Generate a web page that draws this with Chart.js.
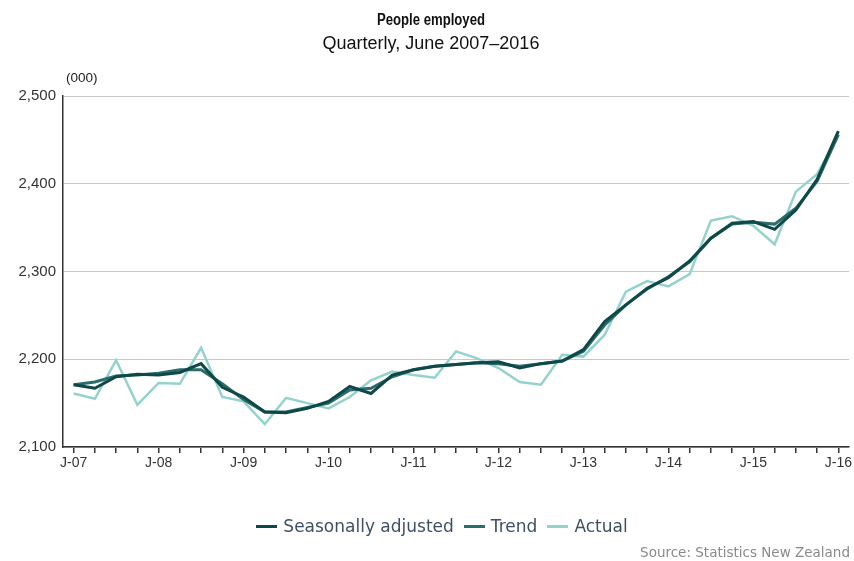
<!DOCTYPE html>
<html>
<head>
<meta charset="utf-8">
<script src="https://cdn.jsdelivr.net/npm/chart.js@4"></script>
<style>
  html, body { margin: 0; padding: 0; background: #fff; }
  #wrap { position: relative; width: 854px; height: 561px; overflow: hidden; }
  #chart { position: absolute; left: 0; top: 0; }
  .title { position: absolute; left: 0; width: 862px; text-align: center; font-family: "Liberation Sans", Arial, sans-serif; color: #111; }
  #t1 { top: 11px; font-size: 16px; font-weight: bold; transform: scaleX(0.82); }
  #t2 { top: 33px; font-size: 18px; }
  #unit { position: absolute; left: 66px; top: 70px; font: 13.5px "Liberation Sans", Arial, sans-serif; color: #222; }
  #legend { position: absolute; top: 516px; left: 0; width: 884px; display: flex; justify-content: center; font: 17px "DejaVu Sans", sans-serif; color: #3f5064; }
  #legend span.item { display: flex; align-items: center; margin: 0 5px; }
  #legend i { display: inline-block; width: 21px; height: 3px; margin-right: 6px; }
  #source { position: absolute; right: 4px; top: 544px; font: 13.5px "DejaVu Sans", sans-serif; color: #8a8a8a; }
</style>
</head>
<body>
<div id="wrap">
  <canvas id="chart" width="854" height="561"></canvas>
  <div class="title" id="t1">People employed</div>
  <div class="title" id="t2">Quarterly, June 2007–2016</div>
  <div id="unit">(000)</div>
  <div id="legend"></div>
  <div id="source">Source: Statistics New Zealand</div>
</div>
<script>
// quarters, June 2007 to June 2016
const quarters = [
  'J-07', 'S-07', 'D-07', 'M-08',
  'J-08', 'S-08', 'D-08', 'M-09',
  'J-09', 'S-09', 'D-09', 'M-10',
  'J-10', 'S-10', 'D-10', 'M-11',
  'J-11', 'S-11', 'D-11', 'M-12',
  'J-12', 'S-12', 'D-12', 'M-13',
  'J-13', 'S-13', 'D-13', 'M-14',
  'J-14', 'S-14', 'D-14', 'M-15',
  'J-15', 'S-15', 'D-15', 'M-16',
  'J-16'
];

// only the June quarters get a label
const tickLabels = ['J-07', 'J-08', 'J-09', 'J-10', 'J-11', 'J-12', 'J-13', 'J-14', 'J-15', 'J-16'];

const seasonallyAdjusted = [
  2171, 2167, 2180, 2183, 2182, 2185, 2195, 2168,
  2157, 2140, 2139, 2144, 2152, 2169, 2161, 2182,
  2188, 2192, 2194, 2196, 2197, 2190, 2195, 2198,
  2211, 2243, 2262, 2281, 2293, 2312, 2338, 2355,
  2357, 2348, 2370, 2405, 2460
];

const trend = [
  2171, 2174, 2181, 2182, 2184, 2188, 2188, 2172,
  2154, 2140, 2140, 2145, 2150, 2165, 2167, 2180,
  2188, 2192, 2194, 2196, 2195, 2192, 2195, 2198,
  2209, 2239, 2262, 2280, 2294, 2311, 2338, 2354,
  2356, 2354, 2372, 2403, 2456
];

const actual = [
  2161, 2155, 2199, 2148, 2173, 2172, 2213, 2157,
  2152, 2126, 2156, 2150, 2144, 2157, 2176, 2186,
  2182, 2179, 2209, 2201, 2190, 2174, 2171, 2205,
  2203, 2228, 2277, 2289, 2283, 2297, 2358, 2363,
  2352, 2331, 2391, 2411, 2455
];

const seriesNames = ['Seasonally adjusted', 'Trend', 'Actual'];
const seriesColors = ['#0e4848', '#2c6d6b', '#93d2cd'];

const line = (label, data, color, width) => ({
  label,
  data,
  borderColor: color,
  backgroundColor: color,
  borderWidth: width,
  pointRadius: 0,
  tension: 0,
  fill: false
});

const datasets = [
  line(seriesNames[0], seasonallyAdjusted, seriesColors[0], 3),
  line(seriesNames[1], trend, seriesColors[1], 3),
  line(seriesNames[2], actual, seriesColors[2], 2.5)
];

const axisFont = { family: '"Liberation Sans", Arial, sans-serif', size: 14 };

new Chart(document.getElementById('chart'), {
  type: 'line',
  data: { labels: quarters, datasets },
  options: {
    responsive: false,
    animation: false,
    layout: { padding: { top: 96, right: 3, left: 0, bottom: 0 } },
    plugins: {
      legend: { display: false },
      tooltip: { enabled: false }
    },
    scales: {
      x: {
        offset: true,
        afterFit: (scale) => { scale.height = 114; },
        border: { color: '#333', width: 1.5 },
        grid: {
          offset: false,
          drawOnChartArea: false,
          drawTicks: true,
          tickLength: 6,
          color: '#333',
          lineWidth: 1.5
        },
        ticks: {
          autoSkip: false,
          maxRotation: 0,
          padding: 2,
          color: '#333',
          font: axisFont,
          callback: function (value) {
            const name = this.getLabelForValue(value);
            return tickLabels.includes(name) ? name : '';
          }
        }
      },
      y: {
        min: 2100,
        max: 2500,
        afterFit: (scale) => { scale.width = 63; },
        border: { color: '#333', width: 1.5 },
        grid: { color: '#c8c8c8', lineWidth: 1, drawTicks: false },
        ticks: {
          stepSize: 100,
          padding: 7,
          color: '#333',
          font: { family: '"Liberation Sans", Arial, sans-serif', size: 15 },
          callback: (v) => v.toLocaleString('en-US')
        }
      }
    }
  }
});

// legend built from the same names and colours
const legendBox = document.getElementById('legend');
seriesNames.forEach((name, i) => {
  const item = document.createElement('span');
  item.className = 'item';
  item.innerHTML = '<i style="background:' + seriesColors[i] + '"></i>' + name;
  legendBox.appendChild(item);
});
</script>
</body>
</html>
